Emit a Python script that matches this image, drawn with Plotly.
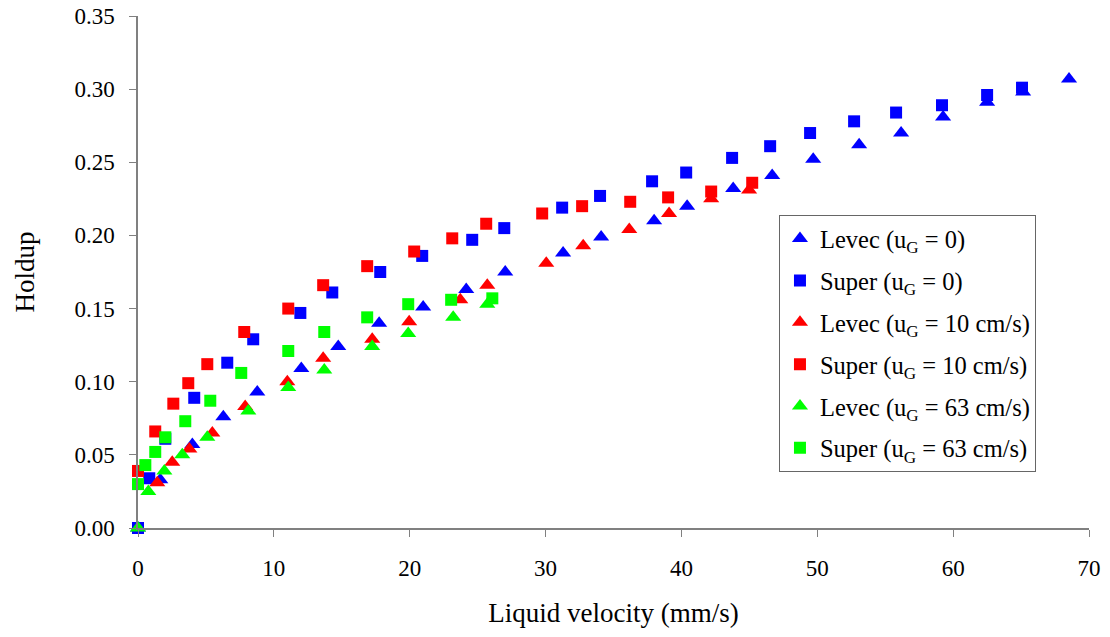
import plotly.graph_objects as go

# Levec (uG = 0) - blue triangles
levec0_x = [0, 1.64, 4.00, 6.28, 8.78, 12.02, 14.74, 17.75, 20.99, 24.16, 27.03, 31.29, 34.09,
            37.99, 40.42, 43.81, 46.68, 49.70, 53.08, 56.17, 59.26, 62.50, 65.15, 68.53]
levec0_y = [0, 0.033, 0.057, 0.076, 0.093, 0.109, 0.124, 0.140, 0.151, 0.163, 0.175, 0.188, 0.199,
            0.210, 0.220, 0.232, 0.241, 0.252, 0.262, 0.270, 0.281, 0.291, 0.298, 0.307]

# Super (uG = 0) - blue squares
super0_x = [0, 0.83, 2.01, 4.14, 6.57, 8.48, 11.95, 14.30, 17.83, 20.92, 24.60, 26.96, 31.22, 34.01,
            37.84, 40.35, 43.73, 46.53, 49.47, 52.71, 55.80, 59.18, 62.50, 65.07]
super0_y = [0, 0.034, 0.061, 0.089, 0.113, 0.129, 0.147, 0.161, 0.175, 0.186, 0.197, 0.205, 0.219, 0.227,
            0.237, 0.243, 0.253, 0.261, 0.270, 0.278, 0.284, 0.289, 0.296, 0.301]

# Levec (uG = 10 cm/s) - red triangles
levec10_x = [1.42, 2.52, 3.78, 5.47, 7.89, 10.99, 13.63, 17.24, 19.96, 23.72, 25.71, 30.05, 32.77,
             36.16, 39.09, 42.19, 44.98]
levec10_y = [0.031, 0.045, 0.054, 0.065, 0.083, 0.100, 0.116, 0.129, 0.141, 0.156, 0.166, 0.181, 0.193,
             0.204, 0.215, 0.225, 0.231]

# Super (uG = 10 cm/s) - red squares
super10_x = [0, 1.27, 2.60, 3.70, 5.10, 7.82, 11.06, 13.63, 16.87, 20.33, 23.13, 25.63, 29.75, 32.69,
             36.23, 39.02, 42.19, 45.21]
super10_y = [0.039, 0.066, 0.085, 0.099, 0.112, 0.134, 0.150, 0.166, 0.179, 0.189, 0.198, 0.208, 0.215,
             0.220, 0.223, 0.226, 0.230, 0.236]

# Levec (uG = 63 cm/s) - green triangles
levec63_x = [0, 0.76, 1.94, 3.26, 5.10, 8.12, 11.06, 13.71, 17.24, 19.89, 23.20, 25.71]
levec63_y = [0, 0.025, 0.039, 0.050, 0.062, 0.080, 0.096, 0.108, 0.124, 0.133, 0.144, 0.153]

# Super (uG = 63 cm/s) - green squares
super63_x = [0, 0.54, 1.27, 2.01, 3.48, 5.32, 7.60, 11.06, 13.71, 16.87, 19.89, 23.05, 26.08]
super63_y = [0.030, 0.043, 0.052, 0.062, 0.073, 0.087, 0.106, 0.121, 0.134, 0.144, 0.153, 0.156, 0.157]

x_ticks = [0, 10, 20, 30, 40, 50, 60, 70]
y_ticks = [0.00, 0.05, 0.10, 0.15, 0.20, 0.25, 0.30, 0.35]

series = [
    ("Levec (u<sub>G</sub> = 0)", levec0_x, levec0_y, "triangle-up", "#0000FF"),
    ("Super (u<sub>G</sub> = 0)", super0_x, super0_y, "square", "#0000FF"),
    ("Levec (u<sub>G</sub> = 10 cm/s)", levec10_x, levec10_y, "triangle-up", "#FF0000"),
    ("Super (u<sub>G</sub> = 10 cm/s)", super10_x, super10_y, "square", "#FF0000"),
    ("Levec (u<sub>G</sub> = 63 cm/s)", levec63_x, levec63_y, "triangle-up", "#00FF00"),
    ("Super (u<sub>G</sub> = 63 cm/s)", super63_x, super63_y, "square", "#00FF00"),
]

FONT = "Times New Roman, Liberation Serif, DejaVu Serif, serif"

fig = go.Figure()
for i, (name, xs, ys, sym, col) in enumerate(series):
    fig.add_trace(go.Scatter(
        x=xs, y=ys, mode="markers", name=name, legendgroup=f"g{i}",
        marker=dict(symbol=sym, color=col, size=14 if sym == "triangle-up" else 12,
                    line=dict(width=0)),
        cliponaxis=False,
    ))

fig.update_layout(
    width=1110, height=637,
    margin=dict(l=138, r=21, t=16, b=109, autoexpand=False),
    paper_bgcolor="white", plot_bgcolor="white",
    font=dict(family=FONT, color="black", size=23),
    legend=dict(
        x=0.674, y=0.611, xanchor="left", yanchor="top",
        bgcolor="white", bordercolor="#666666", borderwidth=1,
        font=dict(family=FONT, size=24.5, color="black"),
        tracegroupgap=7, itemwidth=30,
    ),
    xaxis=dict(
        range=[0, 70], tickvals=x_ticks, ticktext=[str(v) for v in x_ticks],
        showline=True, linecolor="#808080", linewidth=1.5,
        ticks="outside", ticklen=7, tickcolor="#808080", tickwidth=1.2,
        showgrid=False, zeroline=False, automargin=False,
        ticklabelstandoff=12, ticklabeloverflow="allow",
        tickfont=dict(family=FONT, size=23, color="black"),
        title=dict(text="Liquid velocity (mm/s)", font=dict(family=FONT, size=27, color="black"), standoff=23),
    ),
    yaxis=dict(
        range=[0, 0.35], tickvals=y_ticks, ticktext=[f"{v:.2f}" for v in y_ticks],
        showline=True, linecolor="#808080", linewidth=1.5,
        ticks="outside", ticklen=7, tickcolor="#808080", tickwidth=1.2,
        showgrid=False, zeroline=False, automargin=False,
        ticklabelstandoff=10, ticklabeloverflow="allow",
        tickfont=dict(family=FONT, size=23, color="black"),
        title=dict(text="Holdup", font=dict(family=FONT, size=27, color="black"), standoff=32),
    ),
)

fig.write_html("out.html", config={"displayModeBar": False},
               post_script="document.body.style.margin='0';")
